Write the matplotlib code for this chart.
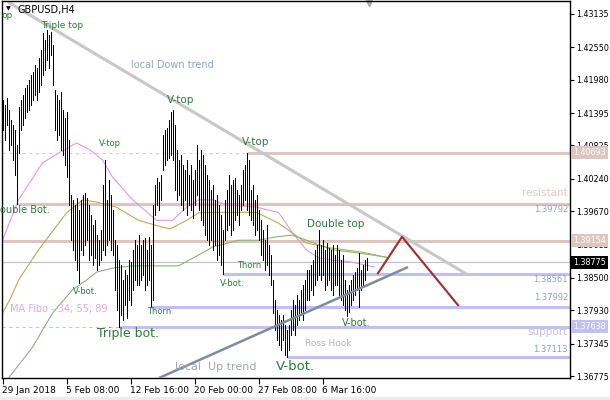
import matplotlib.pyplot as plt
from matplotlib.patches import Rectangle
from matplotlib.transforms import blended_transform_factory

# GBPUSD H4 bars from 29 Jan 2018 00:00 (one bar per index)
highs = [1.4162, 1.4154, 1.4166, 1.4145, 1.4127, 1.4118, 1.4110, 1.4083, 1.4150, 1.4162,
         1.4171, 1.4183, 1.4189, 1.4197, 1.4206, 1.4212, 1.4224, 1.4218, 1.4236, 1.4250,
         1.4280, 1.4268, 1.4285, 1.4277, 1.4282, 1.4259, 1.4180, 1.4171, 1.4162, 1.4176,
         1.4145, 1.4131, 1.4141, 1.4092, 1.3995, 1.3987, 1.3978, 1.3990, 1.3969, 1.3987,
         1.3995, 1.3999, 1.3990, 1.3978, 1.3960, 1.3943, 1.3951, 1.3925, 1.3916, 1.3934,
         1.4013, 1.4057, 1.3987, 1.4022, 1.3995, 1.3969, 1.3916, 1.3908, 1.3881, 1.3872,
         1.3846, 1.3864, 1.3855, 1.3881, 1.3878, 1.3899, 1.3916, 1.3908, 1.3925, 1.3908,
         1.3916, 1.3920, 1.3899, 1.3922, 1.3908, 1.3978, 1.4013, 1.4025, 1.4018, 1.4031,
         1.4101, 1.4110, 1.4113, 1.4127, 1.4141, 1.4145, 1.4118, 1.4074, 1.4057, 1.4066,
         1.4048, 1.4039, 1.4057, 1.4031, 1.4048, 1.4022, 1.4039, 1.4083, 1.4057, 1.4074,
         1.4066, 1.4048, 1.4031, 1.4022, 1.4004, 1.4013, 1.3987, 1.3995, 1.3978, 1.3960,
         1.3934, 1.3987, 1.4004, 1.4031, 1.4013, 1.4022, 1.4025, 1.4004, 1.3995, 1.4013,
         1.4039, 1.4048, 1.4069, 1.4057, 1.4004, 1.4013, 1.3987, 1.3995, 1.3969, 1.3951,
         1.3934, 1.3916, 1.3943, 1.3908, 1.3890, 1.3846, 1.3811, 1.3793, 1.3785, 1.3776,
         1.3785, 1.3767, 1.3758, 1.3767, 1.3793, 1.3811, 1.3802, 1.3820, 1.3811, 1.3829,
         1.3837, 1.3846, 1.3864, 1.3864, 1.3872, 1.3881, 1.3899, 1.3908, 1.3934, 1.3908,
         1.3916, 1.3899, 1.3911, 1.3902, 1.3899, 1.3908, 1.3890, 1.3908, 1.3899, 1.3881,
         1.3890, 1.3846, 1.3829, 1.3837, 1.3846, 1.3855, 1.3860, 1.3867, 1.3893, 1.3864,
         1.3872, 1.3881, 1.3885]
lows = [1.4110, 1.4092, 1.4118, 1.4074, 1.4083, 1.4057, 1.4031, 1.3979, 1.4069, 1.4110,
        1.4118, 1.4131, 1.4141, 1.4145, 1.4154, 1.4162, 1.4171, 1.4162, 1.4176, 1.4189,
        1.4206, 1.4215, 1.4233, 1.4218, 1.4241, 1.4189, 1.4110, 1.4092, 1.4101, 1.4074,
        1.4066, 1.4048, 1.4027, 1.3978, 1.3916, 1.3899, 1.3881, 1.3864, 1.3841, 1.3899,
        1.3890, 1.3908, 1.3916, 1.3881, 1.3890, 1.3872, 1.3885, 1.3864, 1.3872, 1.3881,
        1.3899, 1.3890, 1.3908, 1.3916, 1.3899, 1.3890, 1.3829, 1.3793, 1.3764, 1.3785,
        1.3776, 1.3802, 1.3779, 1.3811, 1.3802, 1.3829, 1.3846, 1.3837, 1.3837, 1.3846,
        1.3855, 1.3829, 1.3837, 1.3846, 1.3799, 1.3811, 1.3960, 1.3978, 1.3969, 1.3987,
        1.4039, 1.4048, 1.4057, 1.4060, 1.4066, 1.4057, 1.4004, 1.3987, 1.3995, 1.3978,
        1.3969, 1.3987, 1.3960, 1.3978, 1.3969, 1.3955, 1.3978, 1.3995, 1.3969, 1.3951,
        1.3943, 1.3925, 1.3916, 1.3908, 1.3916, 1.3899, 1.3908, 1.3881, 1.3890, 1.3872,
        1.3856, 1.3916, 1.3934, 1.3943, 1.3925, 1.3934, 1.3951, 1.3960, 1.3943, 1.3969,
        1.3978, 1.3987, 1.3969, 1.3960, 1.3951, 1.3943, 1.3925, 1.3934, 1.3916, 1.3890,
        1.3881, 1.3864, 1.3872, 1.3855, 1.3837, 1.3788, 1.3758, 1.3741, 1.3732, 1.3723,
        1.3741, 1.3714, 1.3711, 1.3723, 1.3749, 1.3758, 1.3749, 1.3767, 1.3776, 1.3785,
        1.3776, 1.3793, 1.3811, 1.3811, 1.3829, 1.3820, 1.3837, 1.3846, 1.3855, 1.3846,
        1.3855, 1.3829, 1.3837, 1.3846, 1.3829, 1.3820, 1.3837, 1.3837, 1.3820, 1.3811,
        1.3802, 1.3793, 1.3783, 1.3790, 1.3802, 1.3811, 1.3820, 1.3829, 1.3799, 1.3829,
        1.3837, 1.3846, 1.3864]

# moving averages (MA Fibo 34 / 55 / 89), read at a few bars
ma34_x = [0, 8, 20, 28, 37, 44, 50, 55, 65, 77, 85, 92, 98, 105, 112, 127, 138, 145,
          152, 158, 165, 174, 182, 186]
ma34_y = [1.3916, 1.3987, 1.4052, 1.4069, 1.4087, 1.4074, 1.4057, 1.4027, 1.3987, 1.3951,
          1.3951, 1.3974, 1.3987, 1.3987, 1.3978, 1.3974, 1.3965, 1.3929, 1.3899, 1.3885,
          1.3881, 1.3878, 1.3872, 1.3869]
ma55_x = [0, 4, 8, 18, 32, 40, 47, 57, 68, 80, 84, 92, 98, 108, 127, 138, 152, 165, 180, 192]
ma55_y = [1.3788, 1.3814, 1.3846, 1.3899, 1.3964, 1.3987, 1.3983, 1.3974, 1.3951, 1.3939,
          1.3936, 1.3951, 1.3964, 1.3965, 1.3965, 1.3946, 1.3911, 1.3902, 1.3895, 1.3886]
ma89_x = [3, 15, 25, 35, 42, 47, 55, 65, 75, 88, 98, 105, 118, 128, 137, 145, 152, 165,
          175, 185, 192]
ma89_y = [1.3674, 1.3728, 1.3788, 1.3829, 1.3846, 1.3860, 1.3867, 1.3871, 1.3871, 1.3871,
          1.3890, 1.3904, 1.3916, 1.3916, 1.3922, 1.3925, 1.3916, 1.3899, 1.3895, 1.3890,
          1.3886]

# support / resistance levels and the bar where each starts
res_levels = [1.40693, 1.39792, 1.39154]
res_start = [122, 7, -1]
sup_levels = [1.38561, 1.37992, 1.37638, 1.37113]
sup_start = [110, 74, 58, 142]
last_price = 1.38775

# trend lines (bar index, price)
down_x, down_y = [2.75, 232.75], [1.43345, 1.38550]
up_x, up_y = [78.25, 202.75], [1.36740, 1.38689]
fcst_x, fcst_y = [187.75, 199.75, 227.75], [1.38580, 1.39220, 1.38020]

yticks = [1.43135, 1.42550, 1.41980, 1.41395, 1.40825, 1.40240, 1.39670, 1.39085,
          1.38500, 1.37930, 1.37345, 1.36775]
xticks = [0, 32, 64, 96, 128, 160]
xlabels = ["29 Jan 2018", "5 Feb 08:00", "12 Feb 16:00", "20 Feb 00:00",
           "27 Feb 08:00", "6 Mar 16:00"]

W, H = 610, 400
fig = plt.figure(figsize=(W / 100, H / 100), dpi=100)
ax = fig.add_axes([1.5 / W, 22 / H, 568.5 / W, 377 / H])
ax.set_xlim(-0.5, 283.75)
ax.set_ylim(1.36740, 1.43363)

xmax = 283.75
rosy, blue = "#dcc6bf", "#c0c0f5"
green = "#2f7a3a"

# levels
ax.hlines(res_levels, res_start, xmax, colors=rosy, lw=2.2, zorder=1)
ax.hlines(sup_levels, sup_start, xmax, colors=blue, lw=2.2, zorder=1)
ax.plot([-0.5, 122], [1.40693, 1.40693], color="#e2c8d6", lw=0.8, ls=(0, (3, 3)), zorder=1)
ax.plot([-0.5, 58], [1.37638, 1.37638], color=blue, lw=0.8, ls=(0, (3, 3)), zorder=1)
ax.axhline(last_price, color="#c0c0c0", lw=0.8, zorder=1)

# moving averages
ax.plot(ma34_x, ma34_y, color="#e09ae0", lw=0.8, zorder=2)
ax.plot(ma55_x, ma55_y, color="#b5ad5a", lw=0.8, zorder=2)
ax.plot(ma89_x, ma89_y, color="#86b57a", lw=0.8, zorder=2)

# trend lines
ax.plot(down_x, down_y, color="#c8c8c8", lw=2.2, zorder=2, solid_capstyle="butt")
ax.plot(up_x, up_y, color="#7f8c9d", lw=1.8, zorder=4, solid_capstyle="butt")
ax.plot(fcst_x, fcst_y, color="#a52a2a", lw=1.5, zorder=4)

# bars (1 px lines, 2 px apart)
ax.vlines(range(len(highs)), lows, highs, colors="black", lw=0.5,
          antialiased=False, zorder=3)

ax.plot([183], [1.4333], marker="v", color="#a8a8a8", ms=5, clip_on=False)

# axes styling
for s in ax.spines.values():
    s.set_linewidth(1.0)
ax.yaxis.tick_right()
ax.set_yticks(yticks)
ax.set_yticklabels(["%.5f" % v for v in yticks])
ax.tick_params(axis="y", direction="out", length=3, pad=1.5, labelsize=5.8)
ax.set_xticks(xticks)
ax.set_xticklabels(xlabels)
ax.tick_params(axis="x", direction="out", length=4, pad=2, labelsize=6.5)
for lab in ax.get_xticklabels():
    lab.set_horizontalalignment("left")

# price boxes on the scale
tr = blended_transform_factory(ax.transAxes, ax.transData)
boxes = [(1.40693, rosy), (1.39154, rosy), (last_price, "black"), (1.37638, blue)]
for val, col in boxes:
    ax.text(1.0 + 3 / 568.5, val, "%.5f" % val, transform=tr, fontsize=5.8,
            color="white", va="center", ha="left", zorder=10,
            bbox=dict(boxstyle="square,pad=0.25", fc=col, ec="none"))

# annotations (pixel positions from top-left)
def label(px, py, s, size=6.5, color=green, ha="left"):
    fig.text(px / W, 1 - py / H, s, fontsize=size, color=color, ha=ha, va="center")

fig.text(8 / W, 1 - 9 / H, "\u25bc", fontsize=4.5, color="black", ha="center", va="center")
label(17, 10, "GBPUSD,H4", 7, "black")
label(1, 16, "op", 6.5)
label(41, 25, "Triple top", 6.5)
label(131, 65, "local Down trend", 7, "#8fa3c4")
label(167, 100, "V-top", 7.5)
label(99, 144, "V-top", 6)
label(242, 142, "V-top", 7.5)
label(0, 210, "ouble Bot.", 7)
label(307, 224, "Double top", 7.5)
label(237, 265, "Thorn", 6)
label(220, 283, "V-bot.", 6)
label(73, 292, "V-bot.", 6)
label(147, 312, "Thorn", 6)
label(10, 309, "MA Fibo - 34; 55; 89", 7, "#e8a8e8")
label(97, 333, "Triple bot.", 9)
label(305, 343, "Ross Hook", 6.5, "#b4b4b4")
label(342, 323, "V-bot.", 7)
label(175, 367, "local  Up trend", 8, "#a0a8b4")
label(276, 367, "V-bot.", 9.5)
label(568, 193, "resistant", 7.5, "#e3c8c3", "right")
label(568, 332, "support", 7.5, "#c0c0f0", "right")
label(568, 210, "1.39792", 6, "#8fa0b8", "right")
label(568, 279, "1.38561", 6, "#8fa0b8", "right")
label(568, 298, "1.37992", 6, "#8fa0b8", "right")
label(568, 349, "1.37113", 6, "#8fa0b8", "right")

fig.patches.append(Rectangle((0, 0), 1, 3 / H, transform=fig.transFigure,
                             color="#ececec", zorder=0))

fig.savefig("out.png", dpi=100)
